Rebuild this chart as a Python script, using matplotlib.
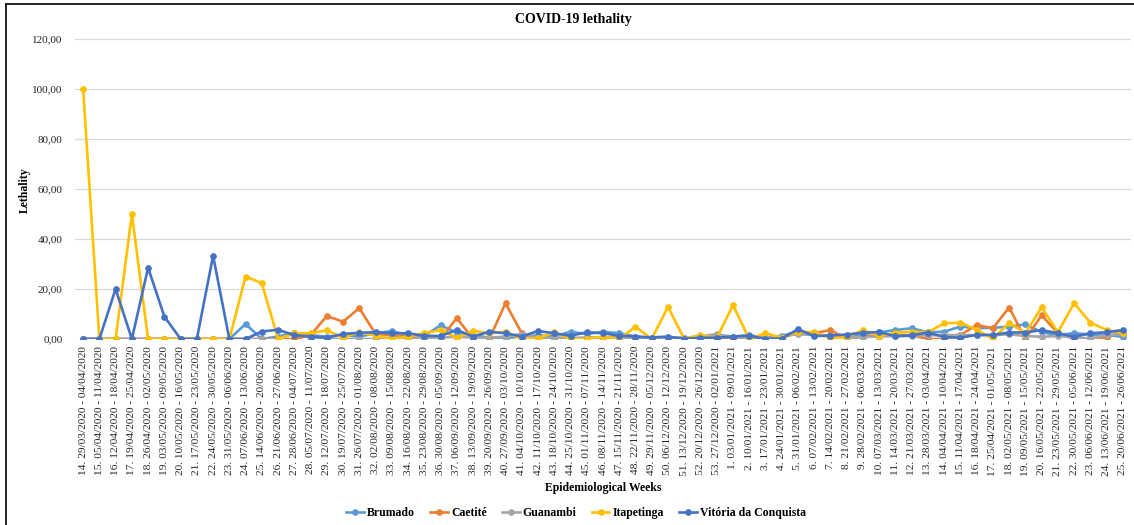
import matplotlib
matplotlib.use("Agg")
import matplotlib.pyplot as plt
from matplotlib.ticker import FuncFormatter
from matplotlib.lines import Line2D

plt.rcParams['font.family'] = ['Liberation Serif', 'DejaVu Serif']

weeks = [
    "14. 29/03/2020 - 04/04/2020", "15. 05/04/2020 - 11/04/2020", "16. 12/04/2020 - 18/04/2020",
    "17. 19/04/2020 - 25/04/2020", "18. 26/04/2020 - 02/05/2020", "19. 03/05/2020 - 09/05/2020",
    "20. 10/05/2020 - 16/05/2020", "21. 17/05/2020 - 23/05/2020", "22. 24/05/2020 - 30/05/2020",
    "23. 31/05/2020 - 06/06/2020", "24. 07/06/2020 - 13/06/2020", "25. 14/06/2020 - 20/06/2020",
    "26. 21/06/2020 - 27/06/2020", "27. 28/06/2020 - 04/07/2020", "28. 05/07/2020 - 11/07/2020",
    "29. 12/07/2020 - 18/07/2020", "30. 19/07/2020 - 25/07/2020", "31. 26/07/2020 - 01/08/2020",
    "32. 02/08/2020 - 08/08/2020", "33. 09/08/2020 - 15/08/2020", "34. 16/08/2020 - 22/08/2020",
    "35. 23/08/2020 - 29/08/2020", "36. 30/08/2020 - 05/09/2020", "37. 06/09/2020 - 12/09/2020",
    "38. 13/09/2020 - 19/09/2020", "39. 20/09/2020 - 26/09/2020", "40. 27/09/2020 - 03/10/2020",
    "41. 04/10/2020 - 10/10/2020", "42. 11/10/2020 - 17/10/2020", "43. 18/10/2020 - 24/10/2020",
    "44. 25/10/2020 - 31/10/2020", "45. 01/11/2020 - 07/11/2020", "46. 08/11/2020 - 14/11/2020",
    "47. 15/11/2020 - 21/11/2020", "48. 22/11/2020 - 28/11/2020", "49. 29/11/2020 - 05/12/2020",
    "50. 06/12/2020 - 12/12/2020", "51. 13/12/2020 - 19/12/2020", "52. 20/12/2020 - 26/12/2020",
    "53. 27/12/2020 - 02/01/2021", "1. 03/01/2021 - 09/01/2021", "2. 10/01/2021 - 16/01/2021",
    "3. 17/01/2021 - 23/01/2021", "4. 24/01/2021 - 30/01/2021", "5. 31/01/2021 - 06/02/2021",
    "6. 07/02/2021 - 13/02/2021", "7. 14/02/2021 - 20/02/2021", "8. 21/02/2021 - 27/02/2021",
    "9. 28/02/2021 - 06/03/2021", "10. 07/03/2021 - 13/03/2021", "11. 14/03/2021 - 20/03/2021",
    "12. 21/03/2021 - 27/03/2021", "13. 28/03/2021 - 03/04/2021", "14. 04/04/2021 - 10/04/2021",
    "15. 11/04/2021 - 17/04/2021", "16. 18/04/2021 - 24/04/2021", "17. 25/04/2021 - 01/05/2021",
    "18. 02/05/2021 - 08/05/2021", "19. 09/05/2021 - 15/05/2021", "20. 16/05/2021 - 22/05/2021",
    "21. 23/05/2021 - 29/05/2021", "22. 30/05/2021 - 05/06/2021", "23. 06/06/2021 - 12/06/2021",
    "24. 13/06/2021 - 19/06/2021", "25. 20/06/2021 - 26/06/2021",
]

brumado = [
    0, 0, 0, 0, 0, 0, 0, 0, 0, 0, 6.0, 0, 1.0, 2.5, 1.5, 1.0, 1.5, 1.0, 2.3, 3.2,
    1.5, 1.2, 5.5, 2.5, 1.6, 0.5, 0.4, 1.0, 1.5, 1.0, 2.9, 2.0, 2.9, 2.3, 1.0, 0.5,
    0.5, 0.5, 0.5, 1.5, 1.0, 1.5, 0.5, 1.3, 2.9, 1.5, 1.5, 1.0, 2.0, 2.7, 3.6, 4.3,
    2.7, 2.9, 5.0, 4.3, 4.5, 4.9, 5.9, 2.7, 1.6, 2.3, 1.8, 1.6, 0.9,
]
caetite = [
    0, 0, 0, 0, 0, 0, 0, 0, 0, 0, 0, 0, 0, 0, 1.5, 9.2, 6.9, 12.4, 2.0, 1.5,
    1.0, 0, 0, 8.4, 0, 0, 14.3, 2.3, 0, 0, 0, 0.5, 0.5, 0.5, 0.5, 0, 0, 0.5, 0,
    0.5, 0, 0.5, 0.5, 0.5, 2.5, 2.3, 3.6, 0, 1.0, 1.5, 1.5, 1.5, 0, 0, 1.6, 5.6,
    4.3, 12.6, 0, 9.5, 2.3, 0, 0, 0.7, 2.9,
]
guanambi = [
    0, 0, 0, 0, 0, 0, 0, 0, 0, 0, 0, 0, 0, 2.3, 0.5, 0, 0, 0, 0, 0.5, 0.5, 0.5,
    0.5, 1.0, 0.5, 0.5, 1.0, 2.0, 0.5, 0.5, 0.5, 0.5, 0.5, 0.5, 0.5, 0.5, 0.5, 0.5,
    1.0, 2.0, 0.5, 0.5, 0.5, 1.0, 2.0, 1.5, 1.0, 0.5, 0.8, 1.0, 1.2, 1.2, 1.5, 1.5,
    1.6, 1.5, 1.5, 1.9, 1.2, 0.9, 1.2, 0.7, 0.2, 1.5, 2.0,
]
itapetinga = [
    100, 0, 0, 50, 0, 0, 0, 0, 0, 0, 25, 22.3, 0, 2.3, 2.3, 3.5, 0.5, 2.7, 1.3, 0,
    1.0, 2.3, 3.6, 0.5, 3.2, 2.3, 2.9, 0, 0.3, 2.7, 0, 0, 1.0, 0, 4.9, 0, 12.9, 0,
    1.6, 0.3, 13.6, 0, 2.3, 0.5, 2.9, 2.7, 0.5, 0.7, 3.6, 1.2, 2.5, 2.9, 2.7, 6.3,
    6.5, 3.8, 0, 6.5, 2.3, 12.7, 2.7, 14.3, 6.5, 3.6, 2.3,
]
vitoria = [
    0, 0, 20, 0, 28.5, 9.0, 0, 0, 33.3, 0, 0, 3.0, 3.7, 1.5, 1.0, 0.5, 2.0, 2.5,
    2.7, 2.3, 2.3, 1.3, 1.2, 3.6, 1.0, 2.9, 2.3, 1.0, 3.2, 2.3, 1.3, 2.7, 2.3, 1.3,
    1.0, 0.6, 1.0, 0, 0.5, 0.5, 1.0, 1.3, 0, 0.2, 3.9, 1.2, 1.4, 1.8, 2.5, 2.8,
    1.1, 1.5, 2.6, 0.8, 0.5, 1.7, 1.6, 2.6, 2.6, 3.6, 2.3, 0.9, 2.3, 2.7, 3.6,
]

series_names = ["Brumado", "Caetité", "Guanambi", "Itapetinga", "Vitória da Conquista"]
series_values = [brumado, caetite, guanambi, itapetinga, vitoria]
series_colors = ["#5B9BD5", "#ED7D31", "#A5A5A5", "#FFC000", "#4472C4"]

W, H = 1134, 525
fig = plt.figure(figsize=(W / 100, H / 100), dpi=100)
ax = fig.add_axes([75 / W, 1 - 339 / H, (1131 - 75) / W, 300 / H])

x = list(range(len(weeks)))
for name, vals, col in zip(series_names, series_values, series_colors):
    ax.plot(x, vals, color=col, lw=1.9, marker='o', ms=3.8, mec=col, mfc=col,
            label=name, solid_joinstyle='round', zorder=3)

ax.set_xlim(-0.5, len(weeks) - 0.5)
ax.set_ylim(0, 120)
ax.set_yticks(range(0, 121, 20))
ax.yaxis.set_major_formatter(FuncFormatter(lambda v, p: f"{v:.2f}".replace('.', ',')))
ax.set_xticks(x)
ax.set_xticklabels(weeks, rotation=90, fontsize=8.2, color='#262626')
ax.tick_params(axis='y', labelsize=8, colors='#262626', length=0, pad=9)
ax.tick_params(axis='x', length=0, pad=5)
ax.grid(axis='y', color='#D9D9D9', lw=0.9)
ax.set_axisbelow(True)
for s in ax.spines.values():
    s.set_visible(False)

fig.text(573 / W, 1 - 20 / H, "COVID-19 lethality", fontsize=10, fontweight='bold',
         ha='center', va='center')
fig.text(25 / W, 1 - 190 / H, "Lethality", fontsize=8.5, fontweight='bold',
         rotation=90, ha='center', va='center')
fig.text(603 / W, 1 - 488 / H, "Epidemiological Weeks", fontsize=8.5,
         fontweight='bold', ha='center', va='center')

handles = [Line2D([0], [0], color=c, lw=1.9, marker='o', ms=3.8) for c in series_colors]
fig.legend(handles, series_names, loc='center', bbox_to_anchor=(576 / W, 1 - 513 / H),
           ncol=5, frameon=False, prop={'weight': 'bold', 'size': 8.5},
           handlelength=1.5, handletextpad=0.25, columnspacing=1.3)

# outer chart frame (left and top edges)
fig.add_artist(Line2D([6 / W, 6 / W], [0, 1 - 4 / H], color='black', lw=1.2,
                      transform=fig.transFigure))
fig.add_artist(Line2D([6 / W, 1], [1 - 4 / H, 1 - 4 / H], color='black', lw=1.2,
                      transform=fig.transFigure))

fig.savefig("out.png", dpi=100)
